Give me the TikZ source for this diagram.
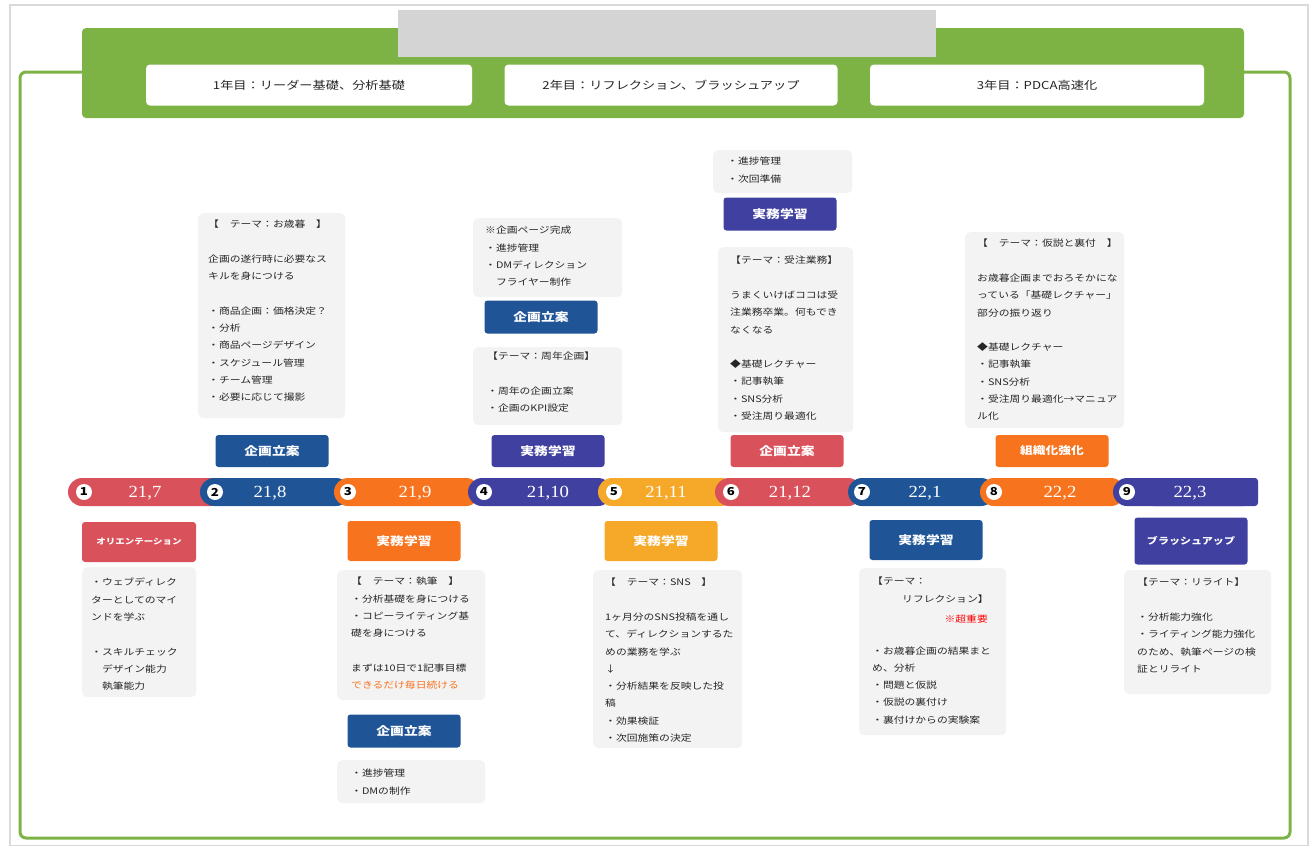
\documentclass[tikz,border=0pt]{standalone}
\usepackage{fontspec}
\setmainfont{Noto Sans CJK JP}[FakeStretch=1.2]
\newfontfamily\numfont{Liberation Serif}[FakeStretch=1.1]
\usetikzlibrary{positioning}
\definecolor{cGreen}{HTML}{7DB344}
\definecolor{cRed}{HTML}{D9525B}
\definecolor{cBlue}{HTML}{1F5597}
\definecolor{cOrange}{HTML}{F7731E}
\definecolor{cPurple}{HTML}{4040A0}
\definecolor{cYellow}{HTML}{F6A929}
\definecolor{cNote}{HTML}{F3F3F3}
\definecolor{cTitle}{HTML}{D4D4D4}
\definecolor{cText}{HTML}{262626}
\tikzset{
notebox/.style={fill=cNote, rounded corners=5pt, anchor=north west, inner sep=0pt},
notetext/.style={anchor=north west, inner sep=0pt, align=left, text=cText,
  font=\fontsize{9}{17.3}\selectfont},
tagbox/.style={rounded corners=3pt, text=white, minimum width=113pt, inner sep=0pt,
  font=\fontsize{11.5}{13}\selectfont\bfseries},
yearbox/.style={fill=white, rounded corners=4pt, minimum height=41pt, inner sep=0pt,
  text=cText, font=\fontsize{11}{13}\selectfont},
numdot/.style={circle, fill=white, inner sep=0pt, minimum size=16pt,
  font=\fontsize{11}{11}\selectfont\bfseries},
seglabel/.style={text=white, font=\numfont\fontsize{17}{17}\selectfont}
}
\begin{document}
\begin{tikzpicture}[x=1pt,y=-1pt]
\useasboundingbox (0,0) rectangle (1310,846);
\draw[black!15, line width=1.5pt] (10,5) rectangle (1308,846);
\draw[cGreen, line width=3pt, rounded corners=6pt] (20,72) rectangle (1290,838);
\fill[cGreen, rounded corners=4pt] (82,28) rectangle (1244,118);
\fill[cTitle] (398,10) rectangle (936,57);
\node[yearbox, minimum width=326pt] (y1) at (309,85) {1年目：リーダー基礎、分析基礎};
\node[yearbox, minimum width=333pt] (y2) at (671,85) {2年目：リフレクション、ブラッシュアップ};
\node[yearbox, minimum width=334pt] (y3) at (1037,85) {3年目：PDCA高速化};

\foreach \n/\xa/\xb/\xn/\xl/\col/\lab in {
1/68/225/84/145/cRed/{21,7}, 2/200/350/215/270/cBlue/{21,8},
3/334/480/348/415/cOrange/{21,9}, 4/468/612/484/548/cPurple/{21,10},
5/598/735/614/666/cYellow/{21,11}, 6/715/862/731/790/cRed/{21,12},
7/848/995/862/925/cBlue/{22,1}, 8/980/1125/994/1060/cOrange/{22,2},
9/1113/1258/1127/1190/cPurple/{22,3}}{
  \fill[\col, rounded corners=14pt] (\xa,478) rectangle (\xb,506);
  \node[numdot] (d\n) at (\xn,492) {\n};
  \node[seglabel] (m\n) at (\xl,493) {\lab};
}
\fill[cPurple, rounded corners=3pt] (1150,478) rectangle (1258,506);
\node[seglabel] at (m9) {22,3};

\node[tagbox, fill=cBlue, minimum height=32pt] (tA) at (272,451) {企画立案};
\node[tagbox, fill=cPurple, minimum height=32pt] (tB) at (548,451) {実務学習};
\node[tagbox, fill=cRed, minimum height=32pt] (tC) at (787,451) {企画立案};
\node[tagbox, fill=cOrange, minimum height=32pt,
  font=\fontsize{10.6}{12}\selectfont\bfseries] (tD) at (1052,451) {組織化強化};
\node[tagbox, fill=cBlue, minimum height=33pt] (tE) at (541,317) {企画立案};
\node[tagbox, fill=cPurple, minimum height=33pt] (tF) at (780,214) {実務学習};
\node[tagbox, fill=cRed, minimum height=40pt, minimum width=114pt,
  font=\fontsize{7.9}{9}\selectfont\bfseries] (tG) at (139,542) {オリエンテーション};
\node[tagbox, fill=cOrange, minimum height=40pt] (tH) at (404,541) {実務学習};
\node[tagbox, fill=cBlue, minimum height=33pt] (tI) at (404,731) {企画立案};
\node[tagbox, fill=cYellow, minimum height=40pt] (tJ) at (661,541) {実務学習};
\node[tagbox, fill=cBlue, minimum height=40pt] (tK) at (926,540) {実務学習};
\node[tagbox, fill=cPurple, minimum height=47pt,
  font=\fontsize{9.2}{11}\selectfont\bfseries] (tL) at (1191,541) {ブラッシュアップ};

\node[notebox, minimum width=147pt, minimum height=205pt] (bA) at (198,213) {};
\node[notetext] (xA) at ([xshift=10pt,yshift=-7pt]bA.north west) {%
【　テーマ：お歳暮　】\\ \\ 企画の遂行時に必要なス\\ キルを身につける\\ \\
・商品企画：価格決定？\\ ・分析\\ ・商品ページデザイン\\ ・スケジュール管理\\
・チーム管理\\ ・必要に応じて撮影};
\node[notebox, minimum width=149pt, minimum height=79pt] (bB) at (473,218) {};
\node[notetext] (xB) at ([xshift=12pt,yshift=-8pt]bB.north west) {%
※企画ページ完成\\ ・進捗管理\\ ・DMディレクション\\ 　フライヤー制作};
\node[notebox, minimum width=149pt, minimum height=78pt] (bC) at (473,347) {};
\node[notetext] (xC) at ([xshift=14pt,yshift=-5pt]bC.north west) {%
【テーマ：周年企画】\\ \\ ・周年の企画立案\\ ・企画のKPI設定};
\node[notebox, minimum width=139pt, minimum height=43pt] (bD) at (713,150) {};
\node[notetext] (xD) at ([xshift=14pt,yshift=-7pt]bD.north west) {%
・進捗管理\\ ・次回準備};
\node[notebox, minimum width=135pt, minimum height=185pt] (bE) at (718,247) {};
\node[notetext] (xE) at ([xshift=12pt,yshift=-9pt]bE.north west) {%
【テーマ：受注業務】\\ \\ うまくいけばココは受\\ 注業務卒業。何もでき\\ なくなる\\ \\
◆基礎レクチャー\\ ・記事執筆\\ ・SNS分析\\ ・受注周り最適化};
\node[notebox, minimum width=159pt, minimum height=196pt] (bF) at (965,232) {};
\node[notetext] (xF) at ([xshift=12pt,yshift=-7pt]bF.north west) {%
【　テーマ：仮説と裏付　】\\ \\ お歳暮企画までおろそかにな\\ っている「基礎レクチャー」\\
部分の振り返り\\ \\ ◆基礎レクチャー\\ ・記事執筆\\ ・SNS分析\\
・受注周り最適化→マニュア\\ ル化};

\node[notebox, minimum width=114pt, minimum height=130pt] (bG) at (82,567) {};
\node[notetext] (xG) at ([xshift=9pt,yshift=-11pt]bG.north west) {%
・ウェブディレク\\ ターとしてのマイ\\ ンドを学ぶ\\ \\ ・スキルチェック\\
　デザイン能力\\ 　執筆能力};
\node[notebox, minimum width=148pt, minimum height=130pt] (bH) at (337,570) {};
\node[notetext] (xH) at ([xshift=14pt,yshift=-7pt]bH.north west) {%
【　テーマ：執筆　】\\ ・分析基礎を身につける\\ ・コピーライティング基\\
礎を身につける\\ \\ まずは10日で1記事目標\\ \textcolor{cOrange}{できるだけ毎日続ける}};
\node[notebox, minimum width=148pt, minimum height=43pt] (bI) at (337,760) {};
\node[notetext] (xI) at ([xshift=14pt,yshift=-9pt]bI.north west) {%
・進捗管理\\ ・DMの制作};
\node[notebox, minimum width=149pt, minimum height=178pt] (bJ) at (593,570) {};
\node[notetext] (xJ) at ([xshift=12pt,yshift=-8pt]bJ.north west) {%
【　テーマ：SNS　】\\ \\ 1ヶ月分のSNS投稿を通し\\ て、ディレクションするた\\
めの業務を学ぶ\\ ↓\\ ・分析結果を反映した投\\ 稿\\ ・効果検証\\ ・次回施策の決定};
\node[notebox, minimum width=147pt, minimum height=167pt] (bK) at (859,568) {};
\node[notetext] (xK) at ([xshift=13pt,yshift=-9pt]bK.north west) {%
【テーマ：\\ \hspace*{30pt}リフレクション】\\ \\ \\ ・お歳暮企画の結果まと\\ め、分析\\
・問題と仮説\\ ・仮説の裏付け\\ ・裏付けからの実験案};
\node[anchor=east, inner sep=0pt, text=red, font=\fontsize{9}{10}\selectfont]
  (kx) at (988,619) {※超重要};
\node[notebox, minimum width=147pt, minimum height=124pt] (bL) at (1124,570) {};
\node[notetext] (xL) at ([xshift=13pt,yshift=-8pt]bL.north west) {%
【テーマ：リライト】\\ \\ ・分析能力強化\\ ・ライティング能力強化\\
のため、執筆ページの検\\ 証とリライト};
\end{tikzpicture}
\end{document}
